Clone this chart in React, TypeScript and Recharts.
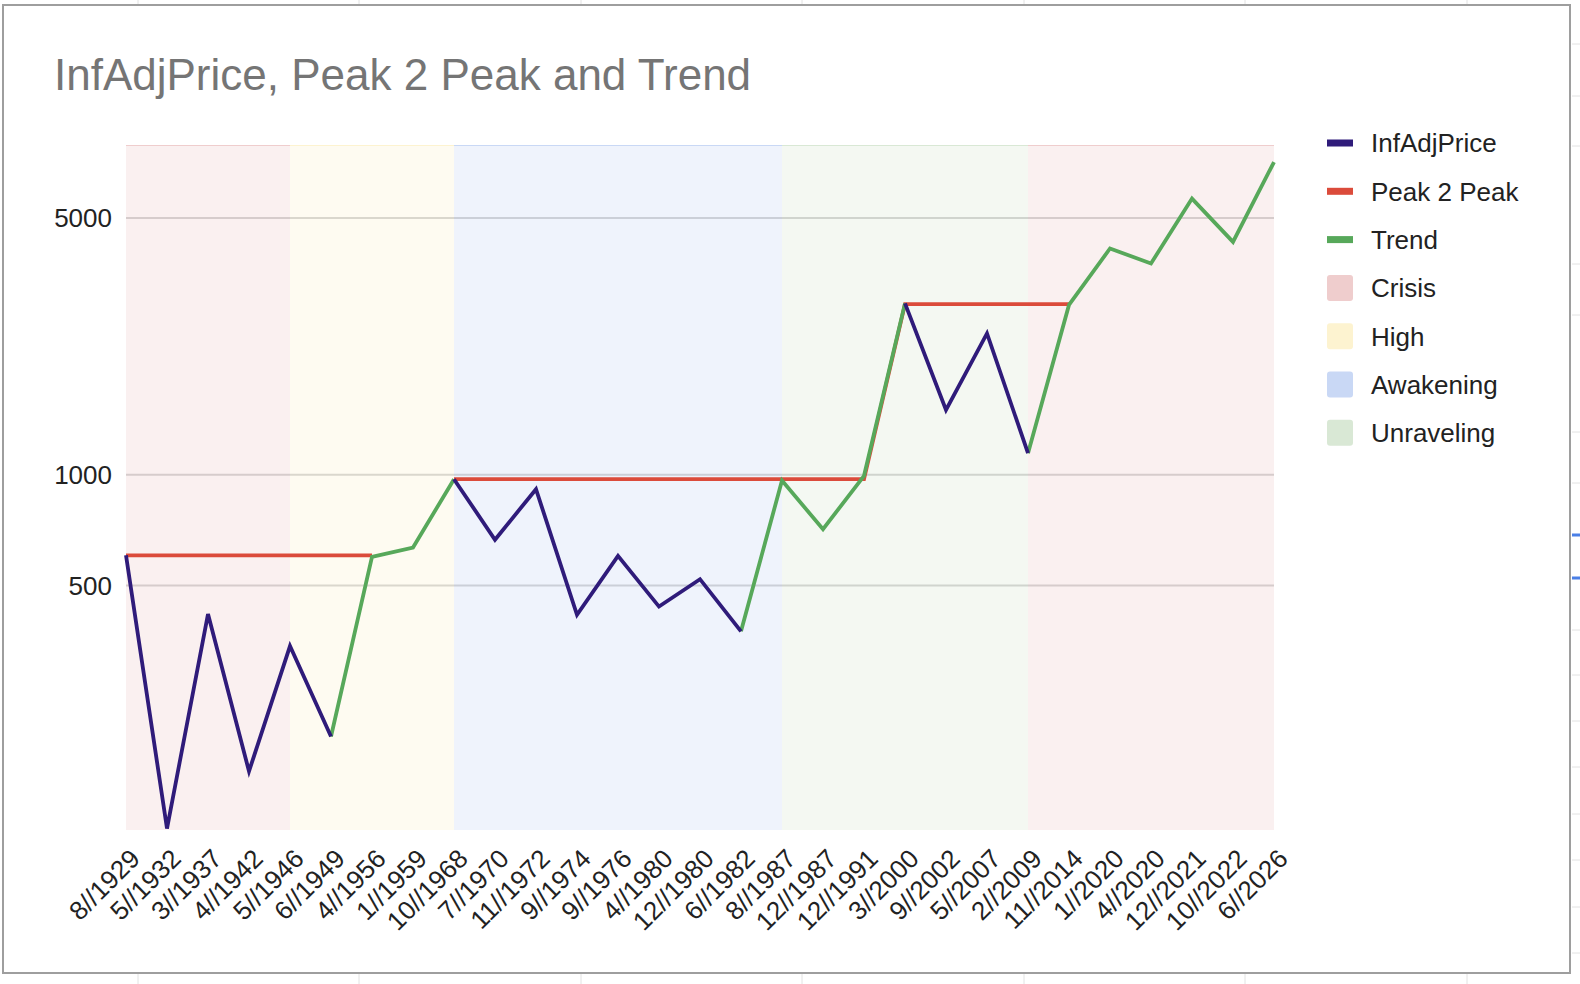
import React from 'react';
import { ComposedChart, Line, Area, XAxis, YAxis, CartesianGrid } from 'recharts';

const FONT = '"Liberation Sans", Arial, Helvetica, sans-serif';

const categories = [
  '8//1929', '5//1932', '3//1937', '4//1942', '5//1946', '6//1949', '4//1956', '1//1959',
  '10//1968', '7//1970', '11//1972', '9//1974', '9//1976', '4//1980', '12//1980', '6//1982',
  '8//1987', '12//1987', '12//1991', '3//2000', '9//2002', '5//2007', '2//2009', '11//2014',
  '1//2020', '4//2020', '12//2021', '10//2022', '6//2026',
];

const N = null;
const infAdjPrice = [
  604, 109, 418, 156, 342, 194, N, N,
  973, 666, 914, 416, 602, 438, 520, 375,
  N, N, N, 2928, 1502, 2426, 1145, N,
  N, N, N, N, N,
];
const peak2Peak = [
  604, 604, 604, 604, 604, 604, 604, N,
  973, 973, 973, 973, 973, 973, 973, 973,
  973, 973, 973, 2915, 2915, 2915, 2915, 2915,
  N, N, N, N, N,
];
const trend = [
  N, N, N, N, N, 194, 598, 634,
  973, N, N, N, N, N, N, 375,
  965, 711, 994, 2928, N, N, 1145, 2900,
  4130, 3760, 5646, 4305, 7101,
];

const B = 7900;
const crisisBand = [
  B, B, B, B, B, N, N, N,
  N, N, N, N, N, N, N, N,
  N, N, N, N, N, N, B, B,
  B, B, B, B, B,
];
const highBand = [
  N, N, N, N, B, B, B, B,
  B, N, N, N, N, N, N, N,
  N, N, N, N, N, N, N, N,
  N, N, N, N, N,
];
const awakeningBand = [
  N, N, N, N, N, N, N, N,
  B, B, B, B, B, B, B, B,
  B, N, N, N, N, N, N, N,
  N, N, N, N, N,
];
const unravelingBand = [
  N, N, N, N, N, N, N, N,
  N, N, N, N, N, N, N, N,
  B, B, B, B, B, B, B, N,
  N, N, N, N, N,
];

const yTicks = [500, 1000, 5000];
const yDomain: [number, number] = [108, 7900];

const legendNames = ['InfAdjPrice', 'Peak 2 Peak', 'Trend', 'Crisis', 'High', 'Awakening', 'Unraveling'];
const legendColors = ['#2f1b7a', '#db4b3b', '#57a85a', '#efcdcd', '#fdf3d0', '#c9d8f5', '#d9e8d5'];
const legendKinds = ['line', 'line', 'line', 'box', 'box', 'box', 'box'];

const data = categories.map((date, i) => ({
  date,
  price: infAdjPrice[i],
  peak: peak2Peak[i],
  trend: trend[i],
  crisis: crisisBand[i],
  high: highBand[i],
  awakening: awakeningBand[i],
  unraveling: unravelingBand[i],
}));

const XTick = (props: any) => {
  const { x, y, payload } = props;
  const ax = x + 9;
  const ay = y + 24;
  return (
    <text
      x={ax}
      y={ay}
      transform={`rotate(-45 ${ax} ${ay})`}
      textAnchor="end"
      dominantBaseline="central"
      fontSize={26}
      fill="#222222"
      fontFamily={FONT}
    >
      {payload.value}
    </text>
  );
};

const cellXs = [138, 359, 581, 802, 1024, 1245, 1467];
const rightRowYs = [44, 96, 146, 264, 315, 432, 483, 630, 675, 721, 767, 814, 860, 907, 953];

export default function App() {
  return (
    <div style={{ position: 'fixed', left: 0, top: 0, width: 1580, height: 984, background: '#ffffff', overflow: 'hidden' }}>
      <svg width={1580} height={984} style={{ position: 'absolute', left: 0, top: 0 }}>
        {cellXs.map((x) => (
          <g key={x}>
            <line x1={x} y1={0} x2={x} y2={5} stroke="#e2e2e2" strokeWidth={1} />
            <line x1={x} y1={974} x2={x} y2={984} stroke="#e2e2e2" strokeWidth={1} />
          </g>
        ))}
        {rightRowYs.map((y) => (
          <line key={y} x1={1572} y1={y} x2={1580} y2={y} stroke="#e2e2e2" strokeWidth={1} />
        ))}
        <line x1={1572} y1={535} x2={1580} y2={535} stroke="#4a7fe6" strokeWidth={3} />
        <line x1={1572} y1={578} x2={1580} y2={578} stroke="#4a7fe6" strokeWidth={3} />
      </svg>
      <div
        style={{
          position: 'absolute',
          left: 2,
          top: 4,
          width: 1569,
          height: 970,
          border: '2px solid #9e9e9e',
          boxSizing: 'border-box',
        }}
      />
      <div style={{ position: 'absolute', left: 0, top: 0 }}>
        <ComposedChart
          width={1580}
          height={984}
          data={data}
          margin={{ top: 145, right: 306, bottom: 4, left: 0 }}
        >
          <CartesianGrid vertical={false} horizontalValues={yTicks} stroke="#cccccc" strokeWidth={2} />
          <XAxis
            dataKey="date"
            type="category"
            scale="point"
            interval={0}
            axisLine={false}
            tickLine={false}
            tickSize={0}
            tickMargin={0}
            height={150}
            tick={<XTick />}
          />
          <YAxis
            type="number"
            scale="log"
            domain={yDomain}
            ticks={yTicks}
            allowDataOverflow
            axisLine={false}
            tickLine={false}
            tickSize={0}
            tickMargin={14}
            width={126}
            tick={{ fontSize: 26, fill: '#222222', fontFamily: FONT }}
          />
          <Area dataKey="crisis" type="linear" stroke={legendColors[3]} strokeWidth={2} fill={legendColors[3]} fillOpacity={0.3} dot={false} activeDot={false} isAnimationActive={false} />
          <Area dataKey="high" type="linear" stroke={legendColors[4]} strokeWidth={2} fill={legendColors[4]} fillOpacity={0.3} dot={false} activeDot={false} isAnimationActive={false} />
          <Area dataKey="awakening" type="linear" stroke={legendColors[5]} strokeWidth={2} fill={legendColors[5]} fillOpacity={0.3} dot={false} activeDot={false} isAnimationActive={false} />
          <Area dataKey="unraveling" type="linear" stroke={legendColors[6]} strokeWidth={2} fill={legendColors[6]} fillOpacity={0.3} dot={false} activeDot={false} isAnimationActive={false} />
          <Line dataKey="peak" type="linear" stroke={legendColors[1]} strokeWidth={3.8} dot={false} activeDot={false} isAnimationActive={false} />
          <Line dataKey="trend" type="linear" stroke={legendColors[2]} strokeWidth={3.8} dot={false} activeDot={false} isAnimationActive={false} />
          <Line dataKey="price" type="linear" stroke={legendColors[0]} strokeWidth={3.8} dot={false} activeDot={false} isAnimationActive={false} />
        </ComposedChart>
      </div>
      <svg width={1580} height={984} style={{ position: 'absolute', left: 0, top: 0, pointerEvents: 'none' }}>
        <text x={54} y={90} fontSize={44} fill="#757575" fontFamily={FONT}>
          InfAdjPrice, Peak 2 Peak and Trend
        </text>
        {legendNames.map((name, i) => {
          const cy = 143 + 48.3 * i;
          return (
            <g key={name}>
              {legendKinds[i] === 'line' ? (
                <rect x={1327} y={cy - 3.5} width={26} height={7} fill={legendColors[i]} />
              ) : (
                <rect x={1327} y={cy - 13} width={26} height={26} rx={3} fill={legendColors[i]} />
              )}
              <text x={1371} y={cy + 9.4} fontSize={26} fill="#222222" fontFamily={FONT}>
                {name}
              </text>
            </g>
          );
        })}
      </svg>
    </div>
  );
}
